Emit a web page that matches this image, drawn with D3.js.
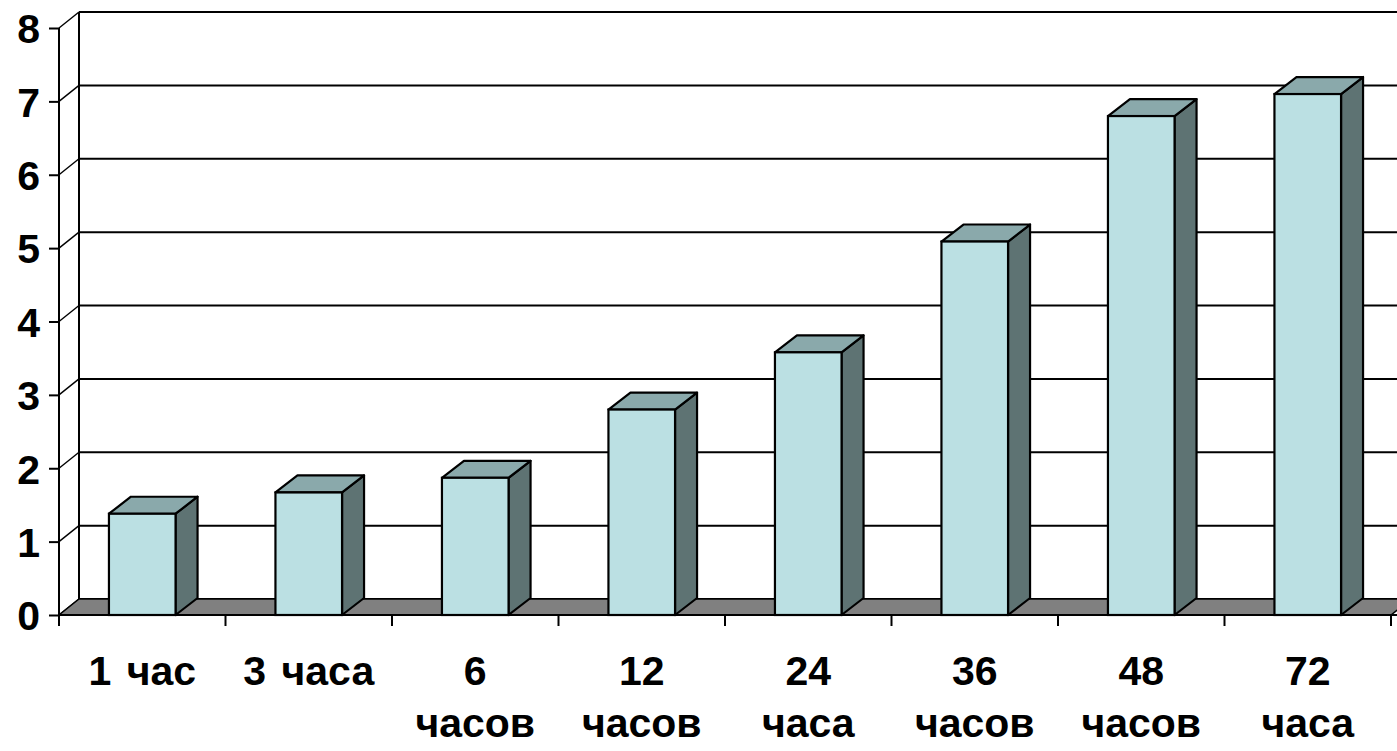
<!DOCTYPE html>
<html>
<head>
<meta charset="utf-8">
<script src="https://cdn.jsdelivr.net/npm/d3@7"></script>
<style>
  html, body { margin: 0; padding: 0; background: #ffffff; }
  svg { display: block; }
  text { font-family: "Liberation Sans", Arial, sans-serif; font-weight: bold; fill: #000; }
</style>
</head>
<body>
<svg id="chart" width="1397" height="751"></svg>
<script>
// Time points after the start and the measured value at each
const categories = ["1 час", "3 часа", "6 часов", "12 часов", "24 часа", "36 часов", "48 часов", "72 часа"];
const tickLabelLines = [["1 час"], ["3 часа"], ["6", "часов"], ["12", "часов"], ["24", "часа"], ["36", "часов"], ["48", "часов"], ["72", "часа"]];
const values = [1.38, 1.67, 1.87, 2.8, 3.58, 5.09, 6.8, 7.1];
const yTicks = [0, 1, 2, 3, 4, 5, 6, 7, 8];

const svg = d3.select("#chart");

// Plot frame and pseudo-3D depth offsets
const x0 = 59, x1 = 1391, yBottom = 615, yTop = 28;
const wallDx = 20, wallDy = -16;   // back wall offset
const barDx = 22, barDy = -17;     // column depth

const x = d3.scaleBand().domain(categories).range([x0, x1]).paddingInner(0.6).paddingOuter(0.3);
const xOuter = d3.scaleBand().domain(categories).range([x0, x1]);
const y = d3.scaleLinear().domain([0, 8]).range([yBottom, yTop]);

// Back wall with gridlines
const wall = svg.append("g");
wall.append("rect")
  .attr("x", x0 + wallDx).attr("y", y(8) + wallDy)
  .attr("width", x1 - x0).attr("height", y(0) - y(8))
  .attr("fill", "#fff");
wall.selectAll("line.grid").data(yTicks).join("line")
  .attr("class", "grid")
  .attr("x1", x0 + wallDx).attr("x2", x1 + wallDx)
  .attr("y1", d => y(d) + wallDy).attr("y2", d => y(d) + wallDy)
  .attr("stroke", "#000").attr("stroke-width", 2);
wall.append("line")
  .attr("x1", x0 + wallDx).attr("x2", x0 + wallDx)
  .attr("y1", y(8) + wallDy).attr("y2", y(0) + wallDy)
  .attr("stroke", "#000").attr("stroke-width", 2);

// Side wall edges joining the front axis to the back wall
wall.selectAll("line.side").data(yTicks).join("line")
  .attr("class", "side")
  .attr("x1", x0).attr("x2", x0 + wallDx)
  .attr("y1", d => y(d)).attr("y2", d => y(d) + wallDy)
  .attr("stroke", "#000").attr("stroke-width", 1.5);

// Floor
svg.append("path")
  .attr("d", `M${x0},${y(0)} L${x1},${y(0)} L${x1 + wallDx},${y(0) + wallDy} L${x0 + wallDx},${y(0) + wallDy} Z`)
  .attr("fill", "#808080").attr("stroke", "#000").attr("stroke-width", 1.5);

// Columns: side face, top face, front face
const bars = svg.append("g").selectAll("g").data(categories).join("g");
bars.append("path")
  .attr("d", (c, i) => {
    const xr = x(c) + x.bandwidth(), yt = y(values[i]), yb = y(0);
    return `M${xr},${yb} L${xr},${yt} L${xr + barDx},${yt + barDy} L${xr + barDx},${yb + barDy} Z`;
  })
  .attr("fill", "#5e7373").attr("stroke", "#000").attr("stroke-width", 2.2).attr("stroke-linejoin", "round");
bars.append("path")
  .attr("d", (c, i) => {
    const xl = x(c), xr = xl + x.bandwidth(), yt = y(values[i]);
    return `M${xl},${yt} L${xl + barDx},${yt + barDy} L${xr + barDx},${yt + barDy} L${xr},${yt} Z`;
  })
  .attr("fill", "#8aa9ab").attr("stroke", "#000").attr("stroke-width", 2.2).attr("stroke-linejoin", "round");
bars.append("rect")
  .attr("x", c => x(c))
  .attr("y", (c, i) => y(values[i]))
  .attr("width", x.bandwidth())
  .attr("height", (c, i) => y(0) - y(values[i]))
  .attr("fill", "#bbe0e3").attr("stroke", "#000").attr("stroke-width", 2.2);

// Value axis
const yAxis = svg.append("g").attr("transform", `translate(${x0},0)`)
  .call(d3.axisLeft(y).tickValues(yTicks).tickSize(10).tickPadding(9).tickFormat(d3.format("d")));
yAxis.select(".domain").attr("stroke", "#000").attr("stroke-width", 2).attr("d", `M0,${y(8)}V${y(0)}`);
yAxis.selectAll(".tick line").attr("stroke", "#000").attr("stroke-width", 2);
yAxis.selectAll(".tick text")
  .attr("font-size", 41).attr("font-family", "Liberation Sans, Arial, sans-serif")
  .attr("font-weight", "bold").attr("fill", "#000").attr("dy", "0.36em");

// Category axis
const xAxis = svg.append("g").attr("transform", `translate(0,${y(0)})`);
xAxis.append("line").attr("x1", x0).attr("x2", 1397).attr("y1", 0).attr("y2", 0)
  .attr("stroke", "#000").attr("stroke-width", 2);
const boundaries = categories.map(c => xOuter(c)).concat([x1]);
xAxis.selectAll("line.tick").data(boundaries).join("line")
  .attr("class", "tick")
  .attr("x1", d => d).attr("x2", d => d).attr("y1", 0).attr("y2", 11)
  .attr("stroke", "#000").attr("stroke-width", 2);
const labels = xAxis.selectAll("text").data(categories).join("text")
  .attr("x", c => xOuter(c) + xOuter.bandwidth() / 2)
  .attr("y", 70)
  .attr("text-anchor", "middle")
  .attr("font-size", 41)
  .attr("word-spacing", 4);
labels.each(function (c, i) {
  const t = d3.select(this);
  tickLabelLines[i].forEach((line, j) => {
    t.append("tspan")
      .attr("x", xOuter(c) + xOuter.bandwidth() / 2)
      .attr("dy", j === 0 ? 0 : 52)
      .text(line);
  });
});
</script>
</body>
</html>
